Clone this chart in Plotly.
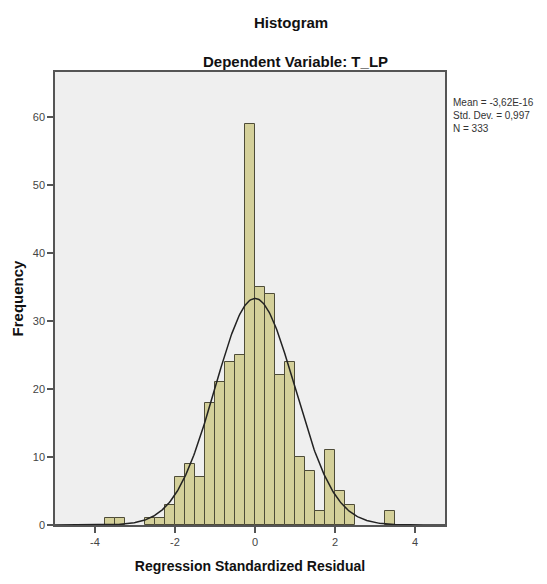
import numpy as np
import plotly.graph_objects as go

# Data
bin_left_edges = [-3.75, -3.5, -2.75, -2.5, -2.25, -2.0, -1.75, -1.5, -1.25, -1.0,
                  -0.75, -0.5, -0.25, 0.0, 0.25, 0.5, 0.75, 1.0, 1.25, 1.5,
                  1.75, 2.0, 2.25, 3.25]
frequencies = [1, 1, 1, 1, 3, 7, 9, 7, 18, 21,
               24, 25, 59, 35, 34, 22, 24, 10, 8, 2,
               11, 5, 3, 2]
bin_width = 0.25
mean_val = -3.62e-16
std_dev = 0.997
n_obs = 333
x_ticks = [-4, -2, 0, 2, 4]
y_ticks = [0, 10, 20, 30, 40, 50, 60]

centers = [e + bin_width / 2 for e in bin_left_edges]

# Fitted normal curve (as SPSS draws it)
xc = np.linspace(-5, 4.75, 400)
yc = n_obs * bin_width / (std_dev * np.sqrt(2 * np.pi)) * np.exp(-0.5 * ((xc - mean_val) / std_dev) ** 2)

FONT = "Liberation Sans Narrow, Arial Narrow, Liberation Sans, Arial, sans-serif"
BOLDF = "Liberation Sans Narrow, Liberation Sans, Arial"

# page body has an 8px margin; size the figure so it fits the window
OFF = 8
W, H = 547 - OFF, 584 - OFF
L, R, T, B = 55 - OFF, W - (445 - OFF), 72 - OFF, H - (525 - OFF)
PW, PH = W - L - R, H - T - B


def px(xp):
    return (xp - OFF - L) / PW


def py(yp):
    return (H - (yp - OFF) - B) / PH


fig = go.Figure()
fig.add_trace(go.Bar(
    x=centers, y=frequencies, width=bin_width,
    marker=dict(color="#d4d09a", line=dict(color="#4e4c38", width=1)),
    hoverinfo="x+y", showlegend=False,
))
fig.add_trace(go.Scatter(
    x=xc, y=yc, mode="lines",
    line=dict(color="#222222", width=1.5), showlegend=False, hoverinfo="skip",
))

fig.update_layout(
    width=W, height=H,
    margin=dict(l=L, r=R, t=T, b=B, pad=0),
    paper_bgcolor="white", plot_bgcolor="#efefef",
    bargap=0,
    font=dict(family=FONT, color="#333333", size=11),
    xaxis=dict(
        range=[-5, 4.75], tickvals=x_ticks, ticktext=[str(v) for v in x_ticks],
        ticks="outside", ticklen=6, tickwidth=1.5, tickcolor="#555555",
        showgrid=False, zeroline=False, showline=True, linecolor="#555555", linewidth=1.5,
        mirror=True, tickfont=dict(size=11, color="#444444"), automargin=False,
        title=dict(text="<b>Regression Standardized Residual</b>",
                   font=dict(size=14, color="#111111", family=BOLDF), standoff=14),
    ),
    yaxis=dict(
        range=[0, 66.6], tickvals=y_ticks,
        ticks="outside", ticklen=6, tickwidth=1.5, tickcolor="#555555",
        showgrid=False, zeroline=False, showline=True, linecolor="#555555", linewidth=1.5,
        mirror=True, tickfont=dict(size=11, color="#444444"), automargin=False,
        title=dict(text="<b>Frequency</b>", font=dict(size=15, color="#111111", family="Liberation Sans, Arial"),
                   standoff=6),
    ),
    annotations=[
        dict(text="<b>Histogram</b>", x=px(291), y=py(22), xref="paper", yref="paper", showarrow=False,
             xanchor="center", yanchor="middle",
             font=dict(size=15, color="#111111", family=BOLDF)),
        dict(text="<b>Dependent Variable: T_LP</b>", x=px(295), y=py(61), xref="paper", yref="paper",
             showarrow=False, xanchor="center", yanchor="middle",
             font=dict(size=15, color="#111111", family=BOLDF)),
        dict(text=f"Mean = -3,62E-16<br>Std. Dev. = {str(std_dev).replace('.', ',')}<br>N = {n_obs}",
             x=px(451), y=py(95), xref="paper", yref="paper", showarrow=False, align="left",
             xanchor="left", yanchor="top",
             font=dict(size=10, color="#333333", family=FONT)),
    ],
)

fig.write_html("out.html")
